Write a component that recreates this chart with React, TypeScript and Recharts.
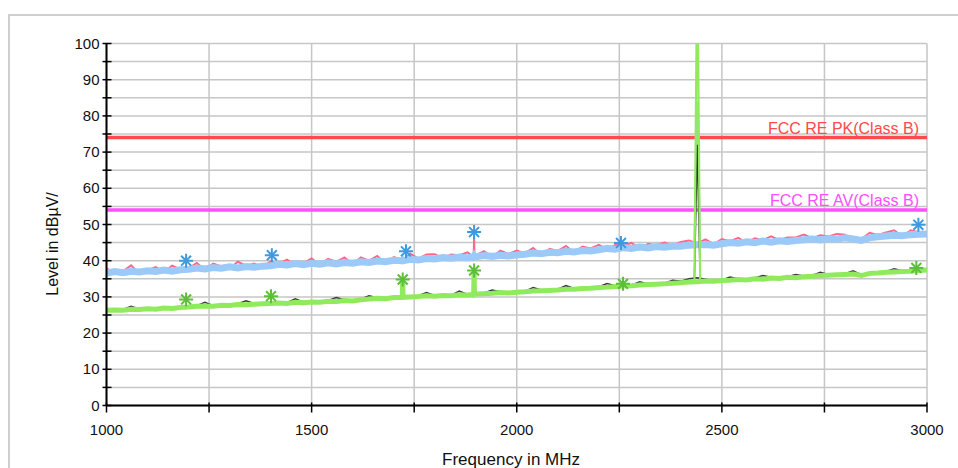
// App.tsx - radiated emission scan 1-3 GHz (peak / average traces + FCC limits)
import React from "react";
import {
  ComposedChart,
  Line,
  Scatter,
  XAxis,
  YAxis,
  CartesianGrid,
  ReferenceLine,
} from "recharts";

const FONT = "'Liberation Sans', Arial, sans-serif";

// scan frequencies (MHz)
const freqs = [
  1000, 1020, 1040, 1060, 1080, 1100, 1120, 1140, 1160, 1180,
  1200, 1220, 1240, 1260, 1280, 1300, 1320, 1340, 1360, 1380,
  1400, 1420, 1440, 1460, 1480, 1500, 1520, 1540, 1560, 1580,
  1600, 1620, 1640, 1660, 1680, 1700, 1720, 1721, 1722, 1723, 1740, 1760, 1780,
  1800, 1820, 1840, 1860, 1880, 1895, 1896, 1897, 1900, 1920, 1940, 1960, 1980,
  2000, 2020, 2040, 2060, 2080, 2100, 2120, 2140, 2160, 2180,
  2200, 2220, 2240, 2260, 2280, 2300, 2320, 2340, 2360, 2380,
  2400, 2420, 2440, 2460, 2480,
  2500, 2520, 2540, 2560, 2580, 2600, 2620, 2640, 2660, 2680,
  2700, 2720, 2740, 2760, 2780, 2800, 2820, 2840, 2860, 2880,
  2900, 2920, 2940, 2960, 2980, 3000,
];

// peak detector (light blue)
const pkTrace = [
  36.6, 37.0, 36.7, 37.1, 36.9, 37.2, 37.0, 37.4, 37.1, 37.5,
  37.6, 38.0, 37.7, 38.1, 37.9, 38.3, 38.0, 38.4, 38.2, 38.5,
  38.6, 39.0, 38.8, 39.2, 38.9, 39.3, 39.0, 39.4, 39.1, 39.5,
  39.3, 39.7, 39.5, 39.9, 39.7, 40.1, 40.0, 40.0, 40.1, 40.0, 40.4, 40.2, 40.6,
  40.5, 40.9, 40.7, 41.0, 40.8, 41.0, 41.2, 41.0, 41.1, 41.4, 41.2, 41.5, 41.3,
  41.6, 41.8, 42.1, 41.9, 42.3, 42.2, 42.6, 42.4, 42.8, 42.7,
  43.0, 43.4, 43.2, 43.6, 43.4, 43.8, 43.5, 43.9, 43.7, 44.0,
  44.0, 44.3, 44.4, 44.5, 44.3,
  44.7, 45.0, 44.8, 45.2, 45.0, 45.4, 45.1, 45.5, 45.3, 45.6,
  45.8, 46.0, 45.7, 46.1, 45.9, 46.3, 46.0, 45.6, 46.3, 46.6,
  46.8, 47.0, 46.9, 47.2, 47.3, 47.4,
];

// max hold of peak (pink)
const pkMax = [
  37.9, 36.6, 37.1, 38.7, 36.4, 37.4, 38.2, 36.9, 38.6, 37.6,
  37.9, 39.4, 37.5, 39.2, 38.4, 37.8, 39.7, 38.6, 39.2, 38.2,
  39.8, 39.1, 40.3, 38.7, 39.3, 40.6, 38.8, 40.5, 39.7, 40.9,
  39.0, 40.9, 40.0, 41.3, 39.1, 41.0, 40.3, 40.0, 40.3, 40.0, 42.0, 40.6, 41.7,
  41.8, 40.7, 41.7, 41.5, 42.3, 41.0, 46.8, 41.0, 41.5, 42.6, 40.9, 42.8, 41.9,
  42.8, 42.1, 43.5, 41.5, 43.3, 42.7, 44.1, 42.2, 43.9, 43.4,
  44.4, 43.1, 44.3, 44.2, 44.9, 43.3, 44.7, 44.3, 45.0, 44.2,
  45.2, 45.6, 44.8, 45.9, 44.6,
  46.0, 45.4, 46.3, 44.9, 46.2, 45.7, 46.7, 45.7, 46.4, 46.4,
  47.2, 46.2, 47.0, 46.7, 47.4, 47.2, 45.7, 45.9, 47.7, 47.1,
  47.8, 48.4, 46.7, 48.4, 47.9, 47.7,
];

// average detector (green)
const avTrace = [
  26.3, 26.4, 26.3, 26.6, 26.5, 26.7, 26.6, 26.9, 26.8, 27.1,
  27.2, 27.4, 27.5, 27.4, 27.7, 27.6, 27.9, 27.8, 28.0, 28.1,
  28.2, 28.3, 28.2, 28.5, 28.4, 28.6, 28.5, 28.8, 28.7, 29.0,
  28.9, 29.2, 29.4, 29.6, 29.5, 29.8, 29.8, 29.9, 34.5, 29.9, 30.0, 30.1, 30.3,
  30.2, 30.4, 30.3, 30.6, 30.5, 30.7, 36.8, 30.7, 30.8, 30.9, 31.0, 31.2, 31.1,
  31.3, 31.4, 31.6, 31.7, 31.8, 31.9, 32.1, 32.1, 32.3, 32.4,
  32.6, 32.7, 32.9, 33.0, 33.1, 33.3, 33.4, 33.5, 33.6, 33.8,
  33.9, 34.1, 34.2, 34.4, 34.3,
  34.5, 34.6, 34.8, 34.7, 35.0, 34.9, 35.2, 35.1, 35.4, 35.3,
  35.6, 35.7, 35.9, 36.0, 36.1, 36.2, 36.3, 35.9, 36.5, 36.6,
  36.8, 36.9, 37.0, 37.1, 37.3, 37.4,
];

// max hold of average (black)
const avMax = [
  26.5, 26.6, 26.5, 27.4, 26.7, 26.9, 26.8, 27.1, 27.0, 27.3,
  27.4, 27.6, 28.5, 27.6, 27.9, 27.8, 28.1, 28.9, 28.2, 28.3,
  28.4, 28.5, 28.4, 29.5, 28.6, 28.8, 28.7, 29.0, 29.8, 29.2,
  29.1, 29.4, 30.3, 29.8, 29.7, 30.0, 30.0, 29.9, 34.0, 29.9, 30.2, 30.3, 31.2,
  30.4, 30.6, 30.5, 31.6, 30.7, 30.9, 36.0, 30.9, 31.0, 31.1, 31.9, 31.4, 31.3,
  31.5, 31.6, 32.6, 31.9, 32.0, 32.1, 33.1, 32.3, 32.5, 32.6,
  32.8, 33.7, 33.1, 33.2, 33.3, 34.2, 33.6, 33.7, 33.8, 34.6,
  34.3, 35.0, 35.3, 34.9, 34.5,
  34.7, 35.5, 35.0, 34.9, 35.2, 35.9, 35.4, 35.3, 35.6, 36.2,
  35.8, 35.9, 36.8, 36.2, 36.3, 36.4, 37.2, 36.1, 36.7, 36.8,
  37.0, 37.8, 37.2, 37.3, 37.5, 37.6,
];

// 2.44 GHz carrier (narrow, drawn on its own)
const spikeFreq = [2433, 2440, 2447];
const pkSpike = [44.3, 84.0, 44.4];
const avSpike = [34.3, 124.0, 34.4];
const avMaxSpike = [34.9, 72.0, 35.1];

// final measurement markers
const pkMarkFreq = [1194, 1403, 1730, 1896, 2254, 2979];
const pkMarkLevel = [40.0, 41.5, 42.6, 47.9, 44.9, 49.9];
const avMarkFreq = [1194, 1401, 1722, 1896, 2259, 2974];
const avMarkLevel = [29.3, 30.2, 34.8, 37.3, 33.6, 38.0];

const limitPk = 74;
const limitAv = 54;

const xTicks = [1000, 1250, 1500, 1750, 2000, 2250, 2500, 2750, 3000];
const yTicks = [0, 5, 10, 15, 20, 25, 30, 35, 40, 45, 50, 55, 60, 65, 70, 75, 80, 85, 90, 95, 100];

const rows = freqs.map((f, i) => ({
  f,
  pk: pkTrace[i],
  pkMax: pkMax[i],
  av: avTrace[i],
  avMax: avMax[i],
}));
const spikeRows = spikeFreq.map((f, i) => ({
  f,
  pk: pkSpike[i],
  av: avSpike[i],
  avMax: avMaxSpike[i],
}));
const pkMarks = pkMarkFreq.map((f, i) => ({ f, level: pkMarkLevel[i] }));
const avMarks = avMarkFreq.map((f, i) => ({ f, level: avMarkLevel[i] }));

const XTick = (props: any) => {
  const { x, y, payload } = props;
  const v = payload.value;
  return (
    <g>
      <line x1={x} x2={x} y1={y - 3} y2={y + 7} stroke="#000" strokeWidth={1.5} />
      {v % 500 === 0 && (
        <text x={x} y={y + 29.5} textAnchor="middle" fontSize={15} fill="#111" fontFamily={FONT}>
          {v}
        </text>
      )}
    </g>
  );
};

const YTick = (props: any) => {
  const { x, y, payload } = props;
  const v = payload.value;
  return (
    <g>
      <line x1={x - 4} x2={x + 5} y1={y} y2={y} stroke="#000" strokeWidth={1.5} />
      {v % 10 === 0 && (
        <text x={x - 7} y={y + 5} textAnchor="end" fontSize={15} fill="#111" fontFamily={FONT}>
          {v}
        </text>
      )}
    </g>
  );
};

const YLabel = (props: any) => {
  const vb = props.viewBox;
  const cx = vb.x + 52;
  const cy = vb.y + vb.height / 2 + 19.5;
  return (
    <text
      x={cx}
      y={cy}
      transform={`rotate(-90 ${cx} ${cy})`}
      textAnchor="middle"
      dominantBaseline="central"
      fontSize={16}
      fill="#111"
      fontFamily={FONT}
    >
      Level in dBµV/
    </text>
  );
};

const XLabel = (props: any) => {
  const vb = props.viewBox;
  return (
    <text
      x={vb.x + vb.width / 2 - 5.7}
      y={vb.y + 59.5}
      textAnchor="middle"
      fontSize={17}
      fill="#111"
      fontFamily={FONT}
    >
      Frequency in MHz
    </text>
  );
};

const LimitLabel = (props: any) => {
  const vb = props.viewBox;
  return (
    <text
      x={vb.x + vb.width - 8}
      y={vb.y - 4}
      textAnchor="end"
      fontSize={16}
      fill={props.color}
      fontFamily={FONT}
    >
      {props.text}
    </text>
  );
};

const Asterisk = (props: any) => {
  const { cx, cy, color } = props;
  const r = 7;
  const d = r * 0.707;
  return (
    <g stroke={color} strokeWidth={2}>
      <line x1={cx - r} x2={cx + r} y1={cy} y2={cy} />
      <line x1={cx} x2={cx} y1={cy - r} y2={cy + r} />
      <line x1={cx - d} x2={cx + d} y1={cy - d} y2={cy + d} />
      <line x1={cx - d} x2={cx + d} y1={cy + d} y2={cy - d} />
    </g>
  );
};

const lineCommon = { dot: false, activeDot: false, isAnimationActive: false } as const;

export default function App() {
  return (
    <div
      style={{
        position: "fixed",
        left: 0,
        top: 0,
        width: 958,
        height: 468,
        overflow: "hidden",
        background: "#fff",
      }}
    >
      <div
        style={{
          position: "absolute",
          left: 8,
          top: 14,
          width: 1000,
          height: 500,
          border: "2px solid #cfcfcf",
        }}
      />
      <div style={{ position: "absolute", left: 0, top: 0 }}>
        <ComposedChart
          width={958}
          height={468}
          data={rows}
          margin={{ top: 43.5, right: 31, bottom: 0, left: 0 }}
        >
          <CartesianGrid stroke="#c6c6c6" strokeWidth={1.5} />
          <XAxis
            dataKey="f"
            type="number"
            domain={[1000, 3000]}
            ticks={xTicks}
            interval={0}
            height={62.5}
            tickSize={0}
            tickMargin={0}
            tickLine={false}
            tick={<XTick />}
            axisLine={{ stroke: "#000", strokeWidth: 2 }}
            label={<XLabel />}
          />
          <YAxis
            type="number"
            domain={[0, 100]}
            allowDataOverflow
            ticks={yTicks}
            interval={0}
            width={106.5}
            tickSize={0}
            tickMargin={0}
            tickLine={false}
            tick={<YTick />}
            axisLine={{ stroke: "#000", strokeWidth: 2 }}
            label={<YLabel />}
          />
          <ReferenceLine
            y={limitPk}
            stroke="#ff4a4a"
            strokeWidth={3.5}
            label={<LimitLabel text="FCC RE PK(Class B)" color="#ff4a4a" />}
          />
          <ReferenceLine
            y={limitAv}
            stroke="#ff4dff"
            strokeWidth={3.5}
            label={<LimitLabel text="FCC RE AV(Class B)" color="#ff4dff" />}
          />
          <Line dataKey="pkMax" stroke="#ff6688" strokeWidth={2} {...lineCommon} />
          <Line dataKey="pk" stroke="#9ccaf8" strokeWidth={7} {...lineCommon} />
          <Line dataKey="avMax" stroke="#3a3a3a" strokeWidth={1.5} {...lineCommon} />
          <Line dataKey="av" stroke="#8fea5c" strokeWidth={5} {...lineCommon} />
          <Line data={spikeRows} dataKey="pk" stroke="#9ccaf8" strokeWidth={2} {...lineCommon} />
          <Line data={spikeRows} dataKey="avMax" stroke="#333333" strokeWidth={1.5} {...lineCommon} />
          <Line data={spikeRows} dataKey="av" stroke="#8fea5c" strokeWidth={2.2} {...lineCommon} />
          <Scatter
            data={pkMarks}
            dataKey="level"
            isAnimationActive={false}
            shape={(p: any) => <Asterisk cx={p.cx} cy={p.cy} color="#3d9ae0" />}
          />
          <Scatter
            data={avMarks}
            dataKey="level"
            isAnimationActive={false}
            shape={(p: any) => <Asterisk cx={p.cx} cy={p.cy} color="#5dbf38" />}
          />
        </ComposedChart>
      </div>
    </div>
  );
}
